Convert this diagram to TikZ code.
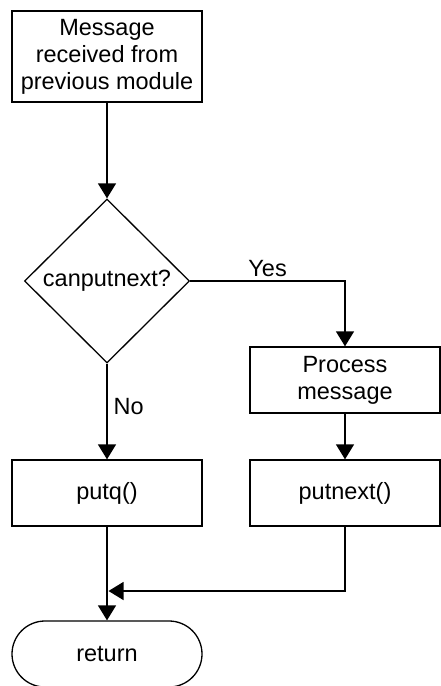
\documentclass[tikz,border=0pt]{standalone}
\usepackage{fontspec}
\setmainfont{Liberation Sans}
\usetikzlibrary{arrows.meta,shapes.geometric,shapes.misc}
\begin{document}
\begin{tikzpicture}[x=1pt,y=-1pt,
  every node/.style={font=\fontsize{23.5}{27}\selectfont},
  box/.style={draw,line width=1.3pt,minimum width=190pt,minimum height=66pt,inner sep=0pt,align=center},
  decision/.style={draw,diamond,line width=1.3pt,minimum width=165pt,minimum height=164pt,inner sep=0pt,aspect=1},
  term/.style={draw,rounded rectangle,line width=1.3pt,minimum width=190pt,minimum height=66pt,inner sep=0pt},
  conn/.style={line width=1.3pt,-{Triangle[length=15pt,width=18pt]}},
  lbl/.style={inner sep=0pt}]
\useasboundingbox (0,0) rectangle (441,686);
\node[box,minimum height=91pt] (msg) at (107,56.5) {Message\\received from\\previous module};
\node[decision] (dec) at (107,281) {canputnext?};
\node[box] (proc) at (345,380) {Process\\message};
\node[box] (putq) at (107,493) {putq()};
\node[box] (putn) at (345,493) {putnext()};
\node[term] (ret) at (107,654) {return};
\coordinate (mj) at (108.5,591);
\draw[conn] (msg.south) -- (dec.north);
\draw[conn] (dec.east) -| (proc.north) node[lbl,pos=0.25,above=4pt] {Yes};
\draw[conn] (dec.south) -- (putq.north) node[lbl,pos=0.45,right=6pt] {No};
\draw[conn] (proc.south) -- (putn.north);
\draw[conn] (putq.south) -- (ret.north);
\draw[conn] (putn.south) |- (mj);
\end{tikzpicture}
\end{document}
